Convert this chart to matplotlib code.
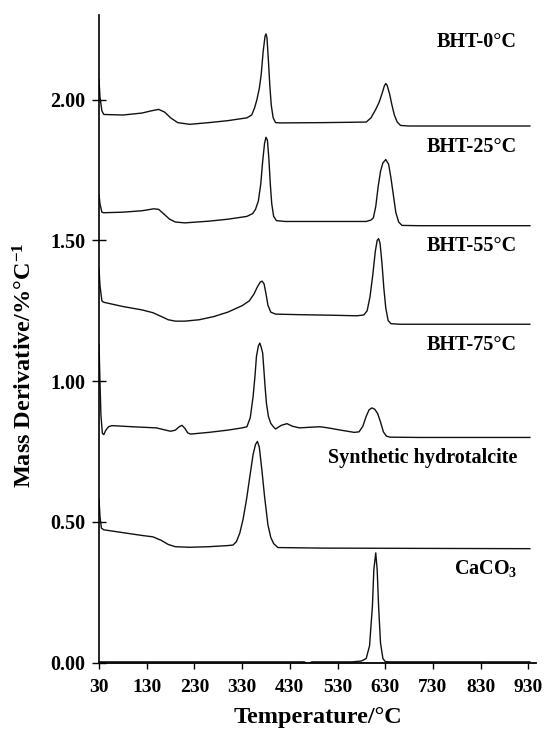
import matplotlib.pyplot as plt
import numpy as np

plt.rcParams['font.family'] = ['Liberation Serif', 'DejaVu Serif']
plt.rcParams['font.weight'] = 'bold'
plt.rcParams['mathtext.fontset'] = 'custom'
plt.rcParams['mathtext.rm'] = 'Liberation Serif:bold'
plt.rcParams['mathtext.bf'] = 'Liberation Serif:bold'
plt.rcParams['mathtext.it'] = 'Liberation Serif:bold'

# BHT-0°C
t_bht0 = [30, 32, 36, 40, 80, 120, 140, 155, 168, 180, 195, 220, 260, 300, 340, 350,
          356, 361, 366, 370, 374, 378, 380, 382, 385, 388, 391, 395, 400, 410, 500,
          590, 600, 610, 617, 623, 628, 631, 634, 639, 644, 649, 655, 662, 680, 800, 933]
d_bht0 = [2.07, 2.01, 1.96, 1.947, 1.945, 1.952, 1.960, 1.965, 1.955, 1.935, 1.918, 1.912,
          1.918, 1.925, 1.935, 1.945, 1.97, 2.00, 2.04, 2.09, 2.17, 2.225, 2.233, 2.22,
          2.14, 2.05, 1.98, 1.935, 1.918, 1.917, 1.918, 1.92, 1.935, 1.965, 1.99, 2.02,
          2.048, 2.057, 2.05, 2.02, 1.98, 1.945, 1.92, 1.908, 1.906, 1.906, 1.906]

# BHT-25°C
t_bht25 = [30, 32, 36, 40, 80, 120, 145, 155, 165, 178, 190, 210, 260, 300, 340, 352,
           358, 364, 369, 373, 377, 380, 383, 386, 389, 392, 396, 402, 420, 500, 590,
           600, 605, 610, 615, 620, 625, 631, 637, 642, 647, 652, 658, 665, 700, 933]
d_bht25 = [1.66, 1.63, 1.60, 1.598, 1.600, 1.605, 1.612, 1.61, 1.595, 1.575, 1.565, 1.562,
           1.568, 1.575, 1.585, 1.595, 1.61, 1.64, 1.70, 1.78, 1.845, 1.866, 1.855, 1.79,
           1.70, 1.63, 1.585, 1.57, 1.567, 1.567, 1.567, 1.572, 1.58, 1.62, 1.69, 1.745,
           1.775, 1.787, 1.77, 1.72, 1.66, 1.60, 1.565, 1.553, 1.552, 1.552]

# BHT-55°C
t_bht55 = [30, 32, 36, 40, 80, 120, 143, 160, 175, 190, 210, 240, 270, 300, 330, 345,
           355, 362, 368, 372, 376, 380, 384, 390, 400, 450, 520, 570, 585, 592, 598,
           604, 609, 613, 616, 619, 623, 627, 631, 636, 642, 660, 933]
d_bht55 = [1.40, 1.34, 1.285, 1.28, 1.265, 1.253, 1.243, 1.23, 1.218, 1.213, 1.213, 1.218,
           1.229, 1.245, 1.268, 1.285, 1.31, 1.335, 1.352, 1.355, 1.345, 1.31, 1.27, 1.245,
           1.238, 1.236, 1.234, 1.232, 1.235, 1.25, 1.30, 1.38, 1.46, 1.50, 1.506, 1.49,
           1.42, 1.33, 1.26, 1.215, 1.204, 1.202, 1.202]

# BHT-75°C
t_bht75 = [30, 32, 34, 37, 40, 44, 50, 57, 100, 150, 170, 180, 190, 198, 204, 210, 216,
           222, 260, 300, 330, 340, 347, 353, 357, 360, 364, 367, 370, 373, 376, 378,
           381, 385, 390, 395, 400, 412, 424, 435, 450, 470, 493, 510, 540, 565, 575,
           583, 590, 596, 602, 608, 614, 620, 626, 632, 640, 700, 933]
d_bht75 = [1.13, 1.0, 0.88, 0.815, 0.81, 0.825, 0.838, 0.842, 0.838, 0.834, 0.826, 0.822,
           0.826, 0.838, 0.843, 0.832, 0.816, 0.812, 0.818, 0.826, 0.834, 0.838, 0.87,
           0.946, 1.02, 1.088, 1.125, 1.135, 1.12, 1.10, 1.03, 0.981, 0.92, 0.875, 0.85,
           0.839, 0.83, 0.843, 0.849, 0.84, 0.834, 0.836, 0.838, 0.834, 0.825, 0.818,
           0.82, 0.84, 0.875, 0.898, 0.905, 0.9, 0.885, 0.855, 0.82, 0.805, 0.801, 0.80, 0.80]

# Synthetic hydrotalcite
t_ht = [30, 32, 35, 40, 80, 120, 143, 160, 175, 190, 220, 260, 300, 311, 318, 325, 332,
        339, 346, 353, 358, 362, 366, 371, 377, 384, 390, 396, 405, 500, 933]
d_ht = [0.58, 0.52, 0.478, 0.472, 0.462, 0.452, 0.447, 0.435, 0.42, 0.412, 0.41, 0.412,
        0.416, 0.418, 0.43, 0.46, 0.51, 0.578, 0.66, 0.74, 0.775, 0.786, 0.765, 0.69,
        0.59, 0.49, 0.445, 0.423, 0.409, 0.407, 0.405]

# CaCO3
t_caco3 = [30, 200, 460, 468, 476, 560, 580, 590, 597, 603, 606, 610, 613, 616, 620,
           625, 630, 640, 933]
d_caco3 = [0.003, 0.003, 0.003, -0.004, 0.003, 0.003, 0.006, 0.015, 0.06, 0.2, 0.33,
           0.39, 0.33, 0.2, 0.07, 0.015, 0.004, 0.003, 0.003]

curves = [(t_bht0, d_bht0), (t_bht25, d_bht25), (t_bht55, d_bht55),
          (t_bht75, d_bht75), (t_ht, d_ht), (t_caco3, d_caco3)]
names = ['BHT-0°C', 'BHT-25°C', 'BHT-55°C', 'BHT-75°C',
         'Synthetic hydrotalcite', 'CaCO$_3$']
name_y = [2.203, 1.833, 1.481, 1.129, 0.728, 0.333]

xticks = [30, 130, 230, 330, 430, 530, 630, 730, 830, 930]
yticks = [0.0, 0.5, 1.0, 1.5, 2.0]

fig = plt.figure(figsize=(5.47, 7.31), dpi=100)
ax = fig.add_axes([0.181, 0.0934, 0.799, 0.886])

for t, d in curves:
    ax.plot(t, d, color='#111111', lw=1.0)

for n, yy in zip(names, name_y):
    ax.text(906, yy, n, ha='right', va='center', fontsize=14.5, fontweight='bold')

ax.set_xlim(30, 946)
ax.set_ylim(0, 2.30)
ax.set_xticks(xticks)
ax.set_xticklabels([str(v) for v in xticks])
ax.set_yticks(yticks)
ax.set_yticklabels(['%.2f' % v for v in yticks])

ax.spines['top'].set_visible(False)
ax.spines['right'].set_visible(False)
ax.spines['left'].set_linewidth(1.2)
ax.spines['bottom'].set_linewidth(1.3)

ax.tick_params(axis='y', direction='inout', length=10, width=1.0, pad=5, labelsize=14.5)
ax.tick_params(axis='x', direction='out', length=4.5, width=1.0, pad=7, labelsize=14)
for lab in ax.get_xticklabels() + ax.get_yticklabels():
    lab.set_fontweight('bold')

ax.set_xlabel('Temperature/°C', fontsize=17.5, fontweight='bold', labelpad=8)
fig.text(0.046, 0.50, 'Mass Derivative/%°C$^{-1}$', rotation=90, ha='center',
         va='center', fontsize=17.5, fontweight='bold')

plt.savefig('out.png', dpi=100)
